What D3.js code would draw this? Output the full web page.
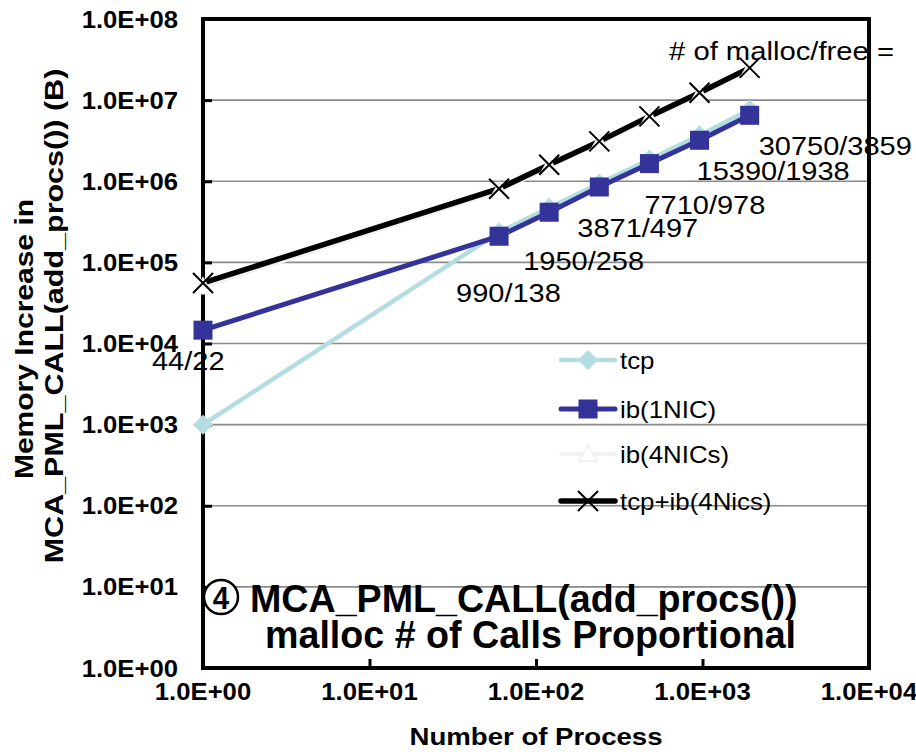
<!DOCTYPE html>
<html><head><meta charset="utf-8">
<script src="https://cdn.jsdelivr.net/npm/d3@7"></script>
<style>body{margin:0;background:#fff}svg{display:block}</style>
</head><body>
<svg id="c" width="916" height="752"></svg>
<script>
// ---- data ----
const nproc = [1, 60, 120, 240, 480, 960, 1920];
const tcp = [1000, 235000, 470000, 940000, 1850000, 3700000, 7600000];
const ib1NIC = [14600, 210000, 415000, 850000, 1650000, 3200000, 6500000];
const ib4NICs = [50000, 750000, 1500000, 2900000, 5900000, 11500000, 23500000];
const tcpIb4 = [55700, 810000, 1600000, 3100000, 6300000, 12300000, 25000000];
const callLabels = ["44/22", "990/138", "1950/258", "3871/497", "7710/978", "15390/1938", "30750/3859"];
const xTicks = [1, 10, 100, 1000, 10000];
const yTicks = [1, 10, 100, 1000, 1e4, 1e5, 1e6, 1e7, 1e8];
const seriesNames = ["tcp", "ib(1NIC)", "ib(4NICs)", "tcp+ib(4Nics)"];
const fmt = v => { const e = Math.round(Math.log10(v)); return "1.0E+" + (e < 10 ? "0" + e : e); };

// ---- layout ----
const svg = d3.select("#c");
const L = 203, R = 869, T = 19, B = 668;
const x = d3.scaleLog().domain([1, 1e4]).range([L, R]);
const y = d3.scaleLog().domain([1, 1e8]).range([B, T]);
const FF = "'Liberation Sans', Arial, sans-serif";

function txt(str, px, py, o) {
  const g = svg.append("g").attr("transform",
    `translate(${px},${py}) rotate(${o.rot || 0}) scale(${o.sx || 1},${o.sy || 1})`);
  g.append("text").text(str)
    .attr("font-family", o.family || FF)
    .attr("font-size", o.size)
    .attr("font-weight", o.weight || "normal")
    .attr("text-anchor", o.anchor || "start")
    .attr("fill", "#000");
  return g;
}

// gridlines
svg.append("g").selectAll("line").data(yTicks.slice(1, -1)).join("line")
  .attr("x1", L).attr("x2", R).attr("y1", d => y(d)).attr("y2", d => y(d))
  .attr("stroke", "#8a8a8a").attr("stroke-width", 1.6);

// axes via d3 axes (inward ticks)
const yAxis = d3.axisLeft(y).tickValues(yTicks).tickFormat("").tickSizeInner(-9).tickSizeOuter(0);
svg.append("g").attr("transform", `translate(${L},0)`).call(yAxis)
  .call(g => { g.select(".domain").remove(); g.selectAll("line").attr("stroke", "#000").attr("stroke-width", 3); });
const xAxis = d3.axisBottom(x).tickValues(xTicks).tickFormat("").tickSizeInner(-9).tickSizeOuter(0);
svg.append("g").attr("transform", `translate(0,${B})`).call(xAxis)
  .call(g => { g.select(".domain").remove(); g.selectAll("line").attr("stroke", "#000").attr("stroke-width", 3); });

// frame
svg.append("rect").attr("x", L).attr("y", T).attr("width", R - L).attr("height", B - T)
  .attr("fill", "none").attr("stroke", "#000").attr("stroke-width", 4);

// tick labels
yTicks.forEach(v => txt(fmt(v), 178, y(v) + 8.5, {size: 24, weight: "bold", anchor: "end", sx: 1.07}));
xTicks.forEach(v => txt(fmt(v), x(v), 700, {size: 24, weight: "bold", anchor: "middle", sx: 1.07}));

// axis titles
txt("Number of Process", 536, 745, {size: 24, weight: "bold", anchor: "middle", sx: 1.15});
txt("Memory Increase in", 33, 339, {size: 25, weight: "bold", anchor: "middle", rot: -90, sx: 1.2});
txt("MCA_PML_CALL(add_procs()) (B)", 63, 316, {size: 25, weight: "bold", anchor: "middle", rot: -90, sx: 1.22});

// series
const line = d3.line().x(d => x(d[0])).y(d => y(d[1]));
const pts = arr => nproc.map((n, i) => [n, arr[i]]);
const styles = [
  {data: ib4NICs, color: "#f2f2f2", w: 4, marker: "tri"},
  {data: tcp, color: "#b3dde0", w: 4.5, marker: "diamond"},
  {data: ib1NIC, color: "#333399", w: 5, marker: "square"},
  {data: tcpIb4, color: "#000000", w: 5.5, marker: "x"}
];
function marker(g, type, cx, cy) {
  if (type === "square") g.append("rect").attr("x", cx - 9.5).attr("y", cy - 9.5).attr("width", 19).attr("height", 19).attr("fill", "#333399");
  else if (type === "diamond") g.append("path").attr("d", `M${cx},${cy - 10}L${cx + 10},${cy}L${cx},${cy + 10}L${cx - 10},${cy}Z`).attr("fill", "#b3dde0");
  else if (type === "tri") g.append("path").attr("d", `M${cx},${cy - 9}L${cx + 9},${cy + 7}L${cx - 9},${cy + 7}Z`).attr("fill", "#fff").attr("stroke", "#eeeeee").attr("stroke-width", 1.5);
  else if (type === "x") g.append("path").attr("d", `M${cx - 10},${cy - 10}L${cx + 10},${cy + 10}M${cx - 10},${cy + 10}L${cx + 10},${cy - 10}`).attr("stroke", "#000").attr("stroke-width", 2);
}
const gS = svg.append("g");
styles.forEach(s => {
  gS.append("path").attr("d", line(pts(s.data))).attr("fill", "none").attr("stroke", s.color)
    .attr("stroke-width", s.w).attr("stroke-linejoin", "round");
});
styles.forEach(s => {
  pts(s.data).forEach(p => marker(gS, s.marker, x(p[0]), y(p[1])));
});

// call count annotations, offset from the ib(1NIC) points
const labelOffsets = [[-51, 40], [-43, 66], [-26, 58], [-22, 50], [-5, 50], [-3, 40], [9, 40]];
callLabels.forEach((t, i) => {
  txt(t, x(nproc[i]) + labelOffsets[i][0], y(ib1NIC[i]) + labelOffsets[i][1], {size: 25, sx: 1.16});
});
txt("# of malloc/free =", 669, 60, {size: 25, sx: 1.17});

// legend
const legY = [360, 409, 454, 501];
const legMarkers = ["diamond", "square", "tri", "x"];
const legColors = ["#b3dde0", "#333399", "#f2f2f2", "#000000"];
const legW = [4.5, 5, 4, 5.5];
seriesNames.forEach((n, i) => {
  svg.append("line").attr("x1", 561).attr("x2", 615).attr("y1", legY[i]).attr("y2", legY[i])
    .attr("stroke", legColors[i]).attr("stroke-width", legW[i]).attr("stroke-linecap", "round");
  marker(svg, legMarkers[i], 588, legY[i]);
  txt(n, 620, legY[i] + 8.5, {size: 23.5, sx: 1.1});
});

// chart title
svg.append("circle").attr("cx", 221).attr("cy", 597).attr("r", 17).attr("fill", "#fff").attr("stroke", "#000").attr("stroke-width", 2.5);
txt("4", 221, 609, {size: 31, weight: "bold", anchor: "middle", sx: 0.95});
txt("MCA_PML_CALL(add_procs())", 250, 612, {size: 39, weight: "bold", sx: 0.965});
txt("malloc # of Calls Proportional", 265, 648, {size: 39, weight: "bold", sx: 0.965});
</script>
</body></html>
